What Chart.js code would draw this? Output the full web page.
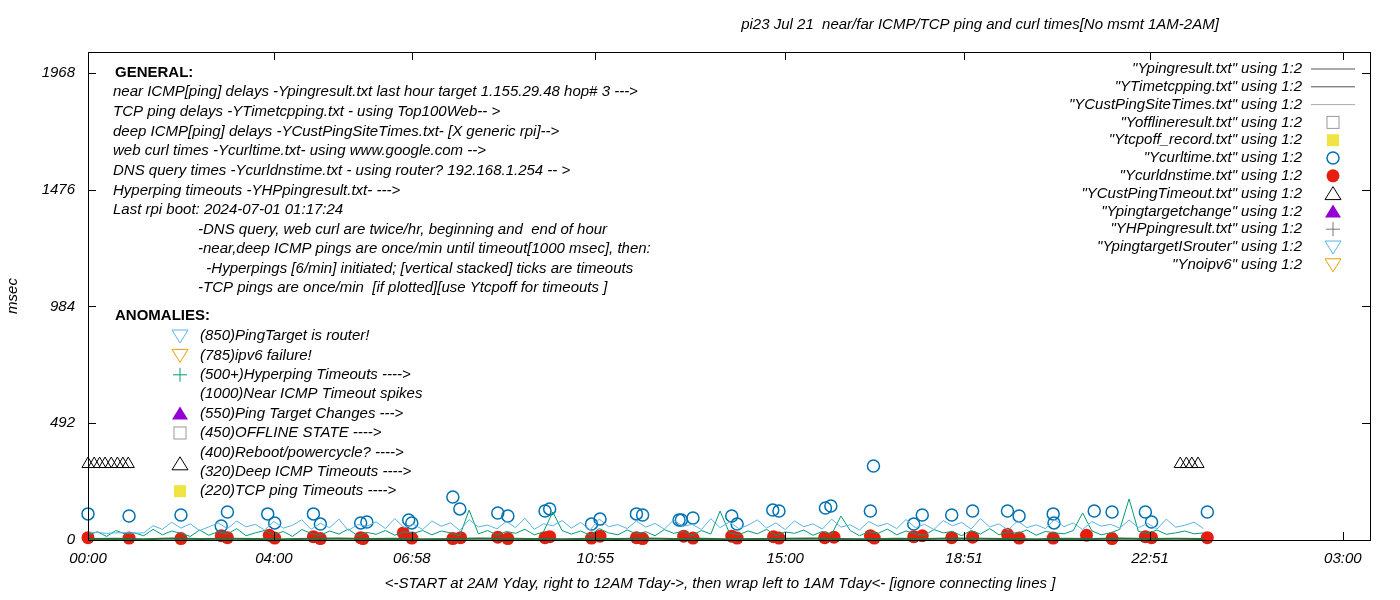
<!DOCTYPE html>
<html>
<head>
<meta charset="utf-8">
<script src="https://cdn.jsdelivr.net/npm/chart.js@4.4.1/dist/chart.umd.min.js"></script>
<style>
  html, body { margin: 0; padding: 0; background: #fff; }
  #wrap { width: 1400px; height: 600px; }
</style>
</head>
<body>
<div id="wrap"><canvas id="c"></canvas></div>
<script>
const titleText = 'pi23 Jul 21  near/far ICMP/TCP ping and curl times[No msmt 1AM-2AM]';
const xTitle = '<-START at 2AM Yday, right to 12AM Tday->, then wrap left to 1AM Tday<- [ignore connecting lines ]';
const yTitle = 'msec';

const xTickMinutes = [0, 240, 418, 655, 900, 1131, 1371, 1620];
const xTickLabels = ['00:00', '04:00', '06:58', '10:55', '15:00', '18:51', '22:51', '03:00'];
const yTickValues = [0, 492, 984, 1476, 1968];

// deep ICMP (cyan) and TCP ping (green), one sample every 12 minutes
const lineStep = 12;
const custPingTimes = [
  30,32,28,30,31,29,30,60,45,75,
  50,68,40,55,72,48,80,55,66,42,
  78,50,62,85,45,70,52,88,40,65,
  58,76,48,90,52,67,44,80,58,72,
  40,86,55,63,47,78,52,92,45,68,
  60,82,50,74,42,88,56,65,48,80,
  54,70,46,84,58,66,44,90,52,76,
  48,62,85,50,72,44,80,56,68,46,
  88,54,64,42,78,58,70,48,86,52,
  66,44,82,60,74,46,90,55,68,42,
  80,52,64,48,86,56,72,44,78,58,
  66,50,84,52,70,46,88,54,62,75,
  48
];
const tcpPingTimes = [
  20,35,15,40,25,30,18,45,22,38,
  28,15,42,20,35,25,48,18,30,40,
  22,36,15,44,28,20,38,25,46,18,
  32,24,40,20,35,28,40,22,38,30,
  18,126,26,40,20,36,28,45,22,34,
  118,40,25,38,20,48,30,22,42,26,
  35,18,44,28,36,20,40,25,122,30,
  22,38,26,45,18,34,28,42,20,36,
  24,101,40,18,35,28,46,22,38,26,
  20,44,30,36,18,40,25,48,22,34,
  28,42,20,36,30,26,40,114,38,22,
  30,45,173,36,28,42,24,30,38,26,
  30
];
// near ICMP ping, one sample every 36 minutes
const pingStep = 36;
const pingTimes = [4,5,3,6,4,5,4,3,5,6,4,5,3,4,6,5,4,3,5,4,6,4,5,3,4,5,6,4,3,5,4,6,5,4,3,5,4,6,4,5,4];

const curlMinutes = [0,53,120,172,180,232,241,291,300,352,360,414,418,471,480,529,542,590,596,650,661,708,716,763,
  766,781,831,838,884,892,952,959,1014,1010,1066,1077,1115,1142,1187,1202,1246,1247,1299,1322,1365,1373,1445];
const curlValues = [110,101,105,59,118,110,72,110,67,72,76,84,72,181,131,114,101,122,131,67,88,110,105,84,
  84,93,101,67,126,122,135,143,312,122,67,105,105,122,122,101,110,72,122,118,118,76,118];

const dnsMinutes = [0,53,120,172,180,234,241,291,300,352,355,407,418,471,481,529,542,590,596,650,661,708,716,
  769,781,831,838,885,892,951,963,1010,1015,1066,1077,1115,1142,1187,1202,1246,1289,1322,1365,1373,1445];
const dnsValues = [10,8,6,18,10,20,8,14,6,10,6,30,8,6,10,12,6,10,14,8,16,10,6,
  16,8,16,8,14,8,10,12,18,8,14,18,10,12,24,8,8,20,6,14,10,10];

const pingTimeoutMinutes = [0,8,15,22,30,38,45,52,1410,1418,1425,1433];
const pingTimeoutValues = [320,320,320,320,320,320,320,320,320,320,320,320];

const generalLines = [
  'near ICMP[ping] delays -Ypingresult.txt last hour target 1.155.29.48 hop# 3 --->',
  'TCP ping delays -YTimetcpping.txt - using Top100Web-- >',
  'deep ICMP[ping] delays -YCustPingSiteTimes.txt- [X generic rpi]-->',
  'web curl times -Ycurltime.txt- using www.google.com -->',
  'DNS query times -Ycurldnstime.txt - using router? 192.168.1.254 -- >',
  'Hyperping timeouts -YHPpingresult.txt- --->',
  'Last rpi boot: 2024-07-01 01:17:24'
];
const noteLines = [
  '-DNS query, web curl are twice/hr, beginning and  end of hour',
  '-near,deep ICMP pings are once/min until timeout[1000 msec], then:',
  '  -Hyperpings [6/min] initiated; [vertical stacked] ticks are timeouts',
  '-TCP pings are once/min  [if plotted][use Ytcpoff for timeouts ]'
];
const anomalyLines = [
  ['tridown', '#56b4e9', '(850)PingTarget is router!'],
  ['tridown', '#e69f00', '(785)ipv6 failure!'],
  ['plus', '#009e73', '(500+)Hyperping Timeouts ---->'],
  ['', '', '(1000)Near ICMP Timeout spikes'],
  ['trifill', '#9400d3', '(550)Ping Target Changes --->'],
  ['square', '#999999', '(450)OFFLINE STATE ---->'],
  ['', '', '(400)Reboot/powercycle? ---->'],
  ['tri', '#000000', '(320)Deep ICMP Timeouts ---->'],
  ['squarefill', '#f0e442', '(220)TCP ping Timeouts ---->']
];
const legendEntries = [
  ['line', '#555555', '"Ypingresult.txt" using 1:2'],
  ['line', '#555555', '"YTimetcpping.txt" using 1:2'],
  ['line', '#aaaaaa', '"YCustPingSiteTimes.txt" using 1:2'],
  ['square', '#999999', '"Yofflineresult.txt" using 1:2'],
  ['squarefill', '#f0e442', '"Ytcpoff_record.txt" using 1:2'],
  ['circle', '#0072b2', '"Ycurltime.txt" using 1:2'],
  ['dot', '#e51e10', '"Ycurldnstime.txt" using 1:2'],
  ['tri', '#000000', '"YCustPingTimeout.txt" using 1:2'],
  ['trifill', '#9400d3', '"Ypingtargetchange" using 1:2'],
  ['plus', '#777777', '"YHPpingresult.txt" using 1:2'],
  ['tridown', '#56b4e9', '"YpingtargetISrouter" using 1:2'],
  ['tridown', '#e69f00', '"Ynoipv6" using 1:2']
];

function series(step, values) {
  return values.map((v, i) => ({ x: i * step, y: v }));
}
function pairs(xs, ys) {
  return xs.map((x, i) => ({ x: x, y: ys[i] }));
}

const FONT = 'italic 15px "Liberation Sans", Arial, sans-serif';

function symbol(ctx, kind, color, x, y) {
  ctx.save();
  ctx.strokeStyle = color;
  ctx.fillStyle = color;
  ctx.lineWidth = 1;
  ctx.beginPath();
  if (kind === 'line') {
    ctx.moveTo(x - 22, y); ctx.lineTo(x + 22, y); ctx.stroke();
  } else if (kind === 'square' || kind === 'squarefill') {
    if (kind === 'square') ctx.strokeRect(x - 6, y - 6, 12, 12);
    else ctx.fillRect(x - 6, y - 6, 12, 12);
  } else if (kind === 'circle') {
    ctx.lineWidth = 1.5; ctx.arc(x, y, 6, 0, Math.PI * 2); ctx.stroke();
  } else if (kind === 'dot') {
    ctx.arc(x, y, 6.5, 0, Math.PI * 2); ctx.fill();
  } else if (kind === 'tri' || kind === 'trifill') {
    ctx.moveTo(x, y - 7); ctx.lineTo(x + 8, y + 6); ctx.lineTo(x - 8, y + 6); ctx.closePath();
    if (kind === 'tri') ctx.stroke(); else ctx.fill();
  } else if (kind === 'tridown') {
    ctx.moveTo(x, y + 7); ctx.lineTo(x + 8, y - 6); ctx.lineTo(x - 8, y - 6); ctx.closePath(); ctx.stroke();
  } else if (kind === 'plus') {
    ctx.moveTo(x - 7, y); ctx.lineTo(x + 7, y); ctx.moveTo(x, y - 7); ctx.lineTo(x, y + 7); ctx.stroke();
  }
  ctx.restore();
}

const decor = {
  id: 'decor',
  afterDraw(chart) {
    const ctx = chart.ctx;
    const a = chart.chartArea;
    const xs = chart.scales.x, ys = chart.scales.y;
    ctx.save();
    ctx.strokeStyle = '#000';
    ctx.lineWidth = 1;
    ctx.strokeRect(a.left + 0.5, a.top + 0.5, a.right - a.left, a.bottom - a.top);
    ctx.beginPath();
    yTickValues.forEach(v => {
      const y = Math.round(ys.getPixelForValue(v)) + 0.5;
      ctx.moveTo(a.left, y); ctx.lineTo(a.left + 8, y);
      ctx.moveTo(a.right, y); ctx.lineTo(a.right - 8, y);
    });
    xTickMinutes.forEach(m => {
      const x = Math.round(xs.getPixelForValue(m)) + 0.5;
      ctx.moveTo(x, a.bottom); ctx.lineTo(x, a.bottom - 8);
      ctx.moveTo(x, a.top); ctx.lineTo(x, a.top + 8);
    });
    ctx.stroke();

    ctx.fillStyle = '#000';
    ctx.font = FONT;
    ctx.textBaseline = 'middle';
    ctx.textAlign = 'center';
    ctx.fillText(titleText, 980, 25);
    ctx.fillText(xTitle, 720, 584);
    ctx.save();
    ctx.translate(13, 296);
    ctx.rotate(-Math.PI / 2);
    ctx.fillText(yTitle, 0, 0);
    ctx.restore();

    ctx.textAlign = 'left';
    ctx.font = 'bold 15px "Liberation Sans", Arial, sans-serif';
    ctx.fillText('GENERAL:', 115, 73);
    ctx.fillText('ANOMALIES:', 115, 316);
    ctx.font = FONT;
    generalLines.forEach((t, i) => ctx.fillText(t, 113, 92 + i * 19.7));
    noteLines.forEach((t, i) => ctx.fillText(t, 198, 230 + i * 19.2));
    anomalyLines.forEach((e, i) => {
      const y = 336 + i * 19.4;
      ctx.fillText(e[2], 200, y);
      if (e[0]) symbol(ctx, e[0], e[1], 180, e[0] === 'tri' ? y - 8 : y);
    });

    ctx.textAlign = 'right';
    legendEntries.forEach((e, i) => {
      const y = 69 + i * 17.8;
      ctx.fillStyle = '#000';
      ctx.fillText(e[2], 1302, y);
      symbol(ctx, e[0], e[1], 1333, y);
    });
    ctx.restore();
  }
};

new Chart(document.getElementById('c'), {
  type: 'scatter',
  data: {
    datasets: [
      { type: 'line', data: series(lineStep, custPingTimes), borderColor: '#56b4e9', borderWidth: 1, pointRadius: 0, tension: 0 },
      { type: 'line', data: series(lineStep, tcpPingTimes), borderColor: '#009e73', borderWidth: 1, pointRadius: 0, tension: 0 },
      { type: 'line', data: series(pingStep, pingTimes), borderColor: '#2d6b3a', borderWidth: 2, pointRadius: 0, tension: 0 },
      { data: pairs(curlMinutes, curlValues), pointStyle: 'circle', pointRadius: 6, borderColor: '#0072b2', borderWidth: 1.5, backgroundColor: 'rgba(0,0,0,0)', clip: false },
      { data: pairs(dnsMinutes, dnsValues), pointStyle: 'circle', pointRadius: 6.5, borderColor: '#e51e10', borderWidth: 0, backgroundColor: '#e51e10', clip: false },
      { data: pairs(pingTimeoutMinutes, pingTimeoutValues), pointStyle: 'triangle', pointRadius: 7, borderColor: '#000', borderWidth: 1, backgroundColor: 'rgba(0,0,0,0)', clip: false }
    ]
  },
  options: {
    responsive: true,
    maintainAspectRatio: false,
    animation: false,
    layout: { padding: { top: 52, right: 30, left: 0, bottom: 0 } },
    plugins: { legend: { display: false }, tooltip: { enabled: false } },
    scales: {
      x: {
        type: 'linear', min: 0, max: 1655,
        afterBuildTicks: (s) => { s.ticks = xTickMinutes.map(v => ({ value: v })); },
        afterFit: (s) => { s.height = 60; },
        grid: { display: false, drawTicks: false },
        border: { display: false },
        ticks: {
          color: '#000', padding: 10, maxRotation: 0, autoSkip: false,
          font: { family: '"Liberation Sans", Arial, sans-serif', size: 15, style: 'italic' },
          callback: (v) => xTickLabels[xTickMinutes.indexOf(v)]
        }
      },
      y: {
        min: 0, max: 2056,
        afterBuildTicks: (s) => { s.ticks = yTickValues.map(v => ({ value: v })); },
        afterFit: (s) => { s.width = 88; },
        grid: { display: false, drawTicks: false },
        border: { display: false },
        ticks: {
          color: '#000', padding: 13,
          font: { family: '"Liberation Sans", Arial, sans-serif', size: 15, style: 'italic' },
          callback: (v) => String(v)
        }
      }
    }
  },
  plugins: [decor]
});
</script>
</body>
</html>
